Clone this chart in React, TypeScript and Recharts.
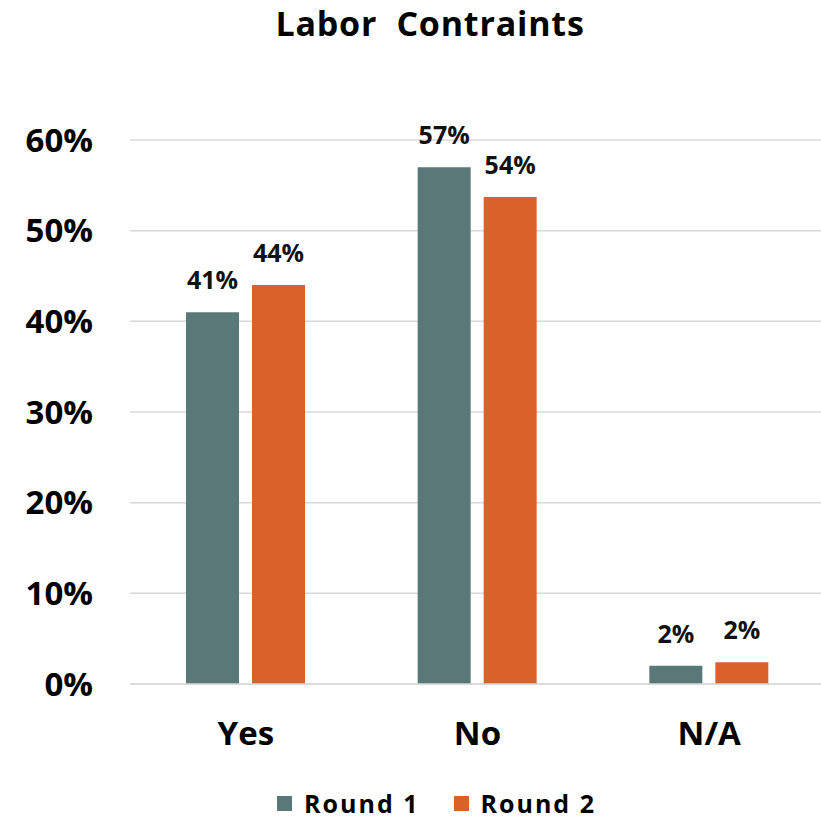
import React from 'react';
import { BarChart, Bar, XAxis, YAxis, CartesianGrid, Legend, LabelList } from 'recharts';

const categories = ['Yes', 'No', 'N/A'];
const round1 = [0.41, 0.57, 0.02];
const round2 = [0.44, 0.537, 0.024];
const seriesNames = ['Round 1', 'Round 2'];
const seriesColors = ['#5b7878', '#d9622b'];
const yTicks = [0, 0.1, 0.2, 0.3, 0.4, 0.5, 0.6];

const data = categories.map((name, i) => ({ name, r1: round1[i], r2: round2[i] }));

const FONT = '"Open Sans", Lato, sans-serif';
const pct = (v: any) => `${Math.round(Number(v) * 100)}%`;

const labelStyle = { fill: '#111', fontSize: 25, fontWeight: 700, fontFamily: FONT };

const LegendContent = ({ payload }: any) => (
  <div style={{ height: 26, display: 'flex', justifyContent: 'center', alignItems: 'center', paddingLeft: 48 }}>
    {(payload || []).map((p: any, i: number) => (
      <div key={i} style={{ display: 'flex', alignItems: 'center', marginRight: i === 0 ? 34 : 0 }}>
        <span style={{ display: 'inline-block', width: 15, height: 15, background: p.color, marginRight: 12 }} />
        <span style={{ fontSize: 25, fontWeight: 700, color: '#000', fontFamily: FONT, lineHeight: '26px', letterSpacing: 2 }}>
          {p.value}
        </span>
      </div>
    ))}
  </div>
);

export default function App() {
  return (
    <div style={{ position: 'fixed', left: 0, top: 0, width: 821, height: 820, background: '#fff', overflow: 'hidden', fontFamily: FONT }}>
      <div
        style={{
          position: 'absolute',
          top: 6,
          left: 0,
          width: 860,
          textAlign: 'center',
          fontSize: 34,
          lineHeight: 1,
          fontWeight: 700,
          color: '#000',
          letterSpacing: 0.8,
          whiteSpace: 'pre',
        }}
      >
        {'Labor  Contraints'}
      </div>
      <BarChart
        width={825}
        height={820}
        data={data}
        margin={{ top: 140, right: 0, bottom: 4, left: 0 }}
        barSize={53}
        barGap={13}
      >
        <CartesianGrid vertical={false} stroke="#d9d9d9" strokeWidth={1.5} />
        <XAxis
          dataKey="name"
          height={106}
          tickLine={false}
          axisLine={{ stroke: '#d9d9d9', strokeWidth: 1.5 }}
          tickMargin={32}
          tick={{ fill: '#000', fontSize: 33, fontWeight: 700, fontFamily: FONT }}
        />
        <YAxis
          width={130}
          domain={[0, 0.6]}
          ticks={yTicks}
          tickFormatter={pct}
          tickLine={false}
          axisLine={false}
          tickMargin={31}
          tick={{ fill: '#000', fontSize: 33, fontWeight: 700, fontFamily: FONT }}
        />
        <Legend verticalAlign="bottom" content={<LegendContent />} />
        <Bar dataKey="r1" name={seriesNames[0]} fill={seriesColors[0]} isAnimationActive={false}>
          <LabelList dataKey="r1" position="top" offset={23} formatter={pct} style={labelStyle} />
        </Bar>
        <Bar dataKey="r2" name={seriesNames[1]} fill={seriesColors[1]} isAnimationActive={false}>
          <LabelList dataKey="r2" position="top" offset={23} formatter={pct} style={labelStyle} />
        </Bar>
      </BarChart>
    </div>
  );
}
